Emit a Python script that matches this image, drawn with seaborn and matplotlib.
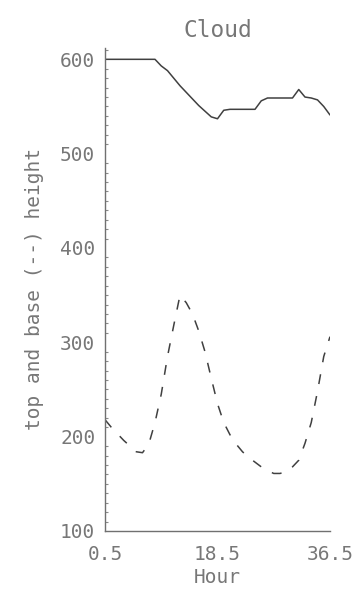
import numpy as np
import pandas as pd
import matplotlib
matplotlib.use("Agg")
import matplotlib.pyplot as plt
from matplotlib.ticker import MultipleLocator, FixedLocator
import seaborn as sns

# Hourly cloud top and base heights
hours = [0.5 + i for i in range(37)]
cloud_top = [600, 600, 600, 600, 600, 600, 600, 600, 600, 593,
             588, 580, 572, 565, 558, 551, 545, 539, 537, 546,
             547, 547, 547, 547, 547, 556, 559, 559, 559, 559,
             559, 568, 560, 559, 557, 550, 541]
cloud_base = [218, 210, 203, 196, 190, 184, 183, 192, 215, 245,
              285, 318, 350, 342, 330, 312, 290, 262, 235, 215,
              202, 192, 184, 178, 173, 168, 164, 161, 161, 163,
              168, 175, 193, 215, 248, 285, 306]
x_ticks = [0.5, 18.5, 36.5]
x_tick_labels = ["0.5", "18.5", "36.5"]
y_ticks = [100, 200, 300, 400, 500, 600]

df = pd.DataFrame({"Hour": hours, "top": cloud_top, "base": cloud_base})

sns.set_style("white")
plt.rcParams["font.family"] = ["DejaVu Sans Mono"]

text_color = "#777777"
line_color = "#404040"

fig = plt.figure(figsize=(3.58, 5.95), dpi=100)
ax = fig.add_axes([105 / 358, 1 - 531 / 595, 225 / 358, (531 - 48) / 595])

sns.lineplot(data=df, x="Hour", y="top", ax=ax, color=line_color, lw=1.1)
sns.lineplot(data=df, x="Hour", y="base", ax=ax, color=line_color, lw=1.1,
             dashes=False, linestyle=(0, (6.5, 8)))

ax.set_xlim(0.5, 36.5)
ax.set_ylim(100, 612)

ax.xaxis.set_major_locator(FixedLocator(x_ticks))
ax.set_xticklabels(x_tick_labels)
ax.yaxis.set_major_locator(FixedLocator(y_ticks))
ax.yaxis.set_minor_locator(MultipleLocator(10))

for side in ("top", "right"):
    ax.spines[side].set_visible(False)
for side in ("left", "bottom"):
    ax.spines[side].set_color("#707070")
    ax.spines[side].set_linewidth(1.0)

ax.tick_params(axis="x", which="major", direction="in", length=9, width=1,
               color="#707070", labelsize=14, labelcolor=text_color, pad=10)
ax.tick_params(axis="y", which="major", direction="in", length=5, width=1,
               color="#707070", labelsize=14, labelcolor=text_color, pad=7)
ax.tick_params(axis="y", which="minor", direction="in", length=2.5, width=0.8,
               color="#8a8a8a", left=True)

ax.set_title("Cloud", fontsize=16.5, color=text_color, pad=8)
ax.set_xlabel("Hour", fontsize=14, color=text_color, labelpad=3)
ax.set_ylabel("top and base (--) height", fontsize=14, color=text_color)
ax.yaxis.set_label_coords(-0.27, 0.5)

fig.savefig("out.png", dpi=100, facecolor="white")
